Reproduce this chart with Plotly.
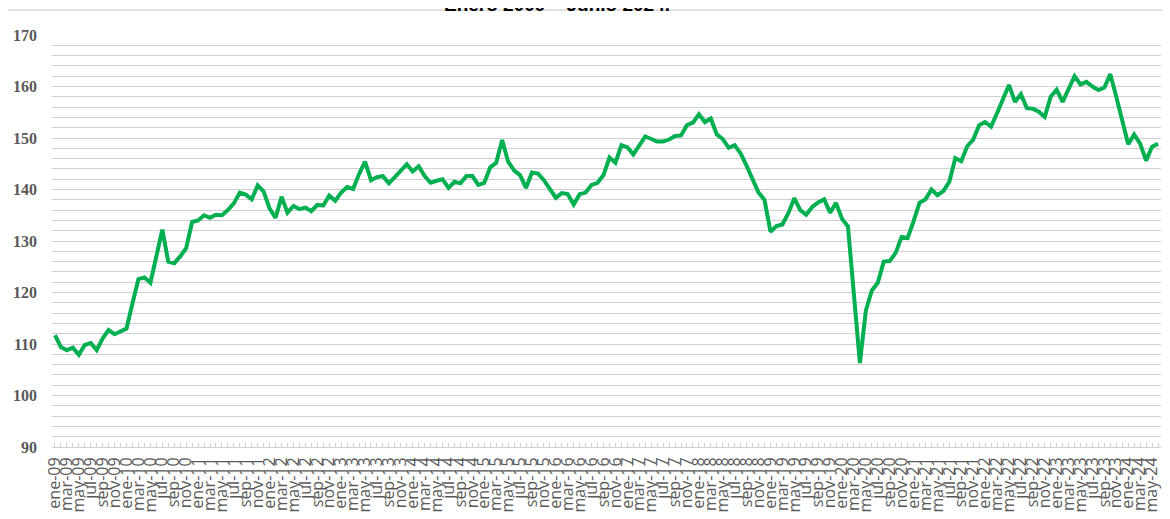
import plotly.graph_objects as go

MONTHS = ["ene", "feb", "mar", "abr", "may", "jun", "jul", "ago", "sep", "oct", "nov", "dic"]
categories = [f"{m}-{y:02d}" for y in range(9, 25) for m in MONTHS][:186]

values = [
    111.7, 109.4, 108.8, 109.3, 107.9, 109.8, 110.2, 108.8, 111.1, 112.7, 111.9, 112.4,
    113.0, 117.9, 122.6, 122.9, 121.9, 127.0, 132.2, 126.0, 125.7, 127.0, 128.6, 133.7,
    134.0, 135.0, 134.5, 135.1, 135.0, 136.0, 137.3, 139.4, 139.0, 138.1, 140.8, 139.6,
    136.3, 134.5, 138.6, 135.5, 136.8, 136.2, 136.5, 135.8, 137.0, 136.9, 138.8, 137.8,
    139.4, 140.5, 140.1, 143.0, 145.4, 141.8, 142.4, 142.6, 141.2, 142.4, 143.8, 144.9,
    143.5, 144.5, 142.6, 141.3, 141.7, 142.0, 140.3, 141.5, 141.2, 142.6, 142.6, 140.9,
    141.3, 144.3, 145.2, 149.6, 145.4, 143.7, 142.8, 140.3, 143.3, 143.1, 141.8, 140.1,
    138.4, 139.3, 139.1, 137.1, 139.1, 139.4, 140.9, 141.3, 142.8, 146.2, 145.2, 148.6,
    148.2, 146.8, 148.4, 150.3, 149.8, 149.3, 149.3, 149.7, 150.4, 150.5, 152.5, 153.0,
    154.6, 153.1, 153.8, 150.7, 149.8, 148.1, 148.6, 147.0, 144.6, 142.0, 139.4, 138.0,
    131.8, 132.9, 133.2, 135.4, 138.3, 136.0, 135.1, 136.6, 137.5, 138.1, 135.5, 137.4,
    134.3, 132.8, 119.5, 106.3, 116.5, 120.4, 121.9, 126.0, 126.1, 127.7, 130.8, 130.6,
    133.8, 137.4, 138.1, 140.0, 138.9, 139.7, 141.5, 146.1, 145.5, 148.4, 149.7, 152.5,
    153.1, 152.2, 154.8, 157.7, 160.3, 157.0, 158.5, 155.8, 155.7, 155.1, 154.1, 158.0,
    159.4, 157.0, 159.3, 162.0, 160.4, 160.9, 160.0, 159.3, 159.8, 162.4, 158.0, 153.3,
    148.8, 150.7, 148.9, 145.6, 148.3, 148.9,
]

tick_text = [c if i % 2 == 0 else "" for i, c in enumerate(categories)]
y_ticks = [90, 100, 110, 120, 130, 140, 150, 160, 170]
title_text = "Enero 2009 – Junio 2024."

# page offset of 8px (default body margin) is accounted for in the margins
PLOT_H = 412
PLOT_W = 1109

fig = go.Figure()
fig.add_trace(go.Scatter(
    x=categories, y=values, mode="lines",
    line=dict(color="#00b050", width=4),
    hoverinfo="x+y", showlegend=False,
))

fig.update_layout(
    width=1162, height=511,
    margin=dict(l=44, r=9, t=27, b=72, autoexpand=False),
    paper_bgcolor="white", plot_bgcolor="white",
    xaxis=dict(
        type="category",
        tickmode="array", tickvals=categories, ticktext=tick_text,
        tickangle=-90,
        tickfont=dict(family="Open Sans", size=16, color="#595959"),
        ticks="inside", ticklen=4, tickcolor="#d0d0d0", tickwidth=1,
        showline=True, linecolor="#d0d0d0", linewidth=1,
        showgrid=False, zeroline=False,
        range=[-0.5, len(categories) - 0.5],
        automargin=False,
        ticklabelstandoff=3,
    ),
    yaxis=dict(
        range=[90, 170], tickmode="array", tickvals=y_ticks,
        ticktext=[str(v) for v in y_ticks],
        tickfont=dict(family="Liberation Serif", size=16, color="#595959", weight="bold"),
        showgrid=True, gridcolor="#cfcfcf", gridwidth=1.3,
        minor=dict(dtick=2, showgrid=True, gridcolor="#cfcfcf", gridwidth=1.3),
        zeroline=False, showline=False, ticks="",
        automargin=False, ticklabelstandoff=14,
    ),
    annotations=[dict(
        text=f"<b>{title_text}</b>", xref="paper", yref="paper",
        x=(557 - 52) / PLOT_W, y=1 + (35 - 17) / PLOT_H,
        xanchor="center", yanchor="bottom", showarrow=False,
        font=dict(family="Liberation Sans", size=19, color="#000000"),
    )],
    shapes=[
        dict(type="line", xref="paper", yref="paper",
             x0=(7 - 52) / PLOT_W, x1=(1168 - 52) / PLOT_W,
             y0=1 + (35 - 10) / PLOT_H, y1=1 + (35 - 10) / PLOT_H,
             line=dict(color="#d9d9d9", width=1.5)),
        dict(type="line", xref="paper", yref="paper",
             x0=(7 - 52) / PLOT_W, x1=(7 - 52) / PLOT_W,
             y0=-0.3, y1=1 + (35 - 10) / PLOT_H,
             line=dict(color="#d9d9d9", width=1.5)),
    ],
)

fig.write_html("out.html")
